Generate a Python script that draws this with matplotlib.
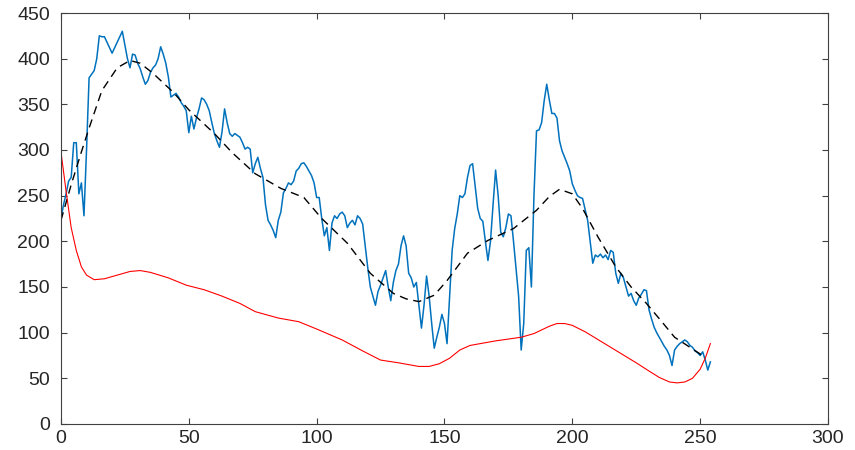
import matplotlib
matplotlib.use("Agg")
import matplotlib.pyplot as plt
import numpy as np

# blue: noisy series, one value per step (x = 0..254)
blue_y = [225, 240, 252, 266, 270, 308, 308, 252, 264, 228,
          300, 379, 383, 387, 400, 425, 424, 424, 418, 412,
          406, 412, 418, 424, 430, 415, 400, 390, 405, 404,
          395, 389, 380, 372, 376, 385, 390, 393, 400, 413,
          405, 395, 380, 358, 360, 362, 358, 352, 348, 343,
          319, 337, 323, 335, 345, 357, 355, 350, 343, 330,
          318, 310, 303, 320, 345, 330, 318, 315, 318, 316,
          314, 308, 301, 303, 301, 275, 285, 292, 280, 270,
          240, 223, 218, 212, 204, 223, 232, 253, 258, 264,
          262, 266, 277, 280, 285, 286, 282, 277, 272, 264,
          248, 248, 225, 206, 215, 190, 220, 228, 225, 230,
          232, 228, 215, 220, 223, 218, 228, 225, 219, 195,
          171, 150, 140, 130, 145, 152, 160, 168, 150, 135,
          155, 168, 175, 195, 206, 195, 165, 160, 150, 155,
          130, 105, 130, 162, 140, 110, 83, 95, 106, 120,
          110, 88, 140, 190, 214, 230, 250, 248, 252, 270,
          283, 285, 260, 236, 225, 222, 200, 179, 200, 240,
          278, 250, 210, 205, 215, 230, 228, 200, 170, 140,
          81, 110, 190, 193, 150, 250, 321, 322, 330, 354,
          372, 355, 340, 340, 335, 310, 299, 292, 285, 277,
          263, 256, 250, 248, 247, 235, 223, 200, 176, 185,
          183, 186, 182, 185, 180, 190, 188, 165, 154, 165,
          160, 150, 140, 143, 135, 130, 138, 142, 147, 146,
          125, 115, 106, 100, 95, 90, 85, 81, 75, 64,
          81, 85, 88, 90, 92, 90, 86, 84, 80, 78,
          75, 79, 70, 59, 68]
blue_x = np.arange(len(blue_y))

# black dashed: smooth trend
trend_x = [0, 4, 8, 11, 16, 22, 27, 31, 36, 44, 50, 60, 67, 76, 86, 95, 102,
           112, 121, 130, 135, 140, 146, 151, 159, 167, 177, 186, 191, 195,
           200, 204, 210, 217, 223, 229, 235, 240, 246, 252]
trend_y = [223, 262, 298, 324, 365, 390, 398, 395, 384, 363, 344, 318, 297,
           274, 258, 248, 225, 198, 165, 143, 137, 134, 141, 157, 187, 201,
           214, 234, 249, 257, 252, 236, 205, 172, 150, 132, 112, 95, 84, 73]

# red: lower smooth curve
red_x = [0, 2, 4, 6, 8, 10, 13, 17, 22, 27, 31, 35, 42, 49, 56, 63, 70, 76,
         85, 93, 100, 110, 118, 125, 132, 140, 144, 148, 152, 156, 160, 170,
         180, 185, 188, 191, 194, 197, 200, 205, 215, 225, 230, 234, 238, 241,
         244, 247, 250, 252, 254]
red_y = [298, 255, 215, 190, 172, 163, 158, 159, 163, 167, 168, 166, 160,
         152, 147, 140, 132, 123, 116, 112, 104, 92, 80, 70, 67, 63, 63, 66,
         72, 81, 86, 91, 95, 99, 103, 107, 110, 110, 108, 101, 84, 67, 58, 51,
         46, 45, 46, 50, 60, 72, 88]

plt.rcParams['font.family'] = ['Liberation Sans', 'DejaVu Sans']

fig = plt.figure(figsize=(8.55, 4.5), dpi=100)
ax = fig.add_axes([0.0713, 0.0578, 0.8971, 0.9133])

ax.plot(blue_x, blue_y, color='#0072BD', lw=1.1)
ax.plot(trend_x, trend_y, 'k--', lw=1.0, dashes=(6, 4))
ax.plot(red_x, red_y, color='#FF0000', lw=0.8)

ax.set_xlim(0, 300)
ax.set_ylim(0, 450)
ax.set_xticks(np.arange(0, 301, 50))
ax.set_yticks(np.arange(0, 451, 50))
ax.tick_params(direction='in', top=True, right=True, labelsize=14,
               color='#404040', labelcolor='#262626', length=4)
ax.tick_params(axis='y', pad=8)
ax.tick_params(axis='x', pad=4)
for s in ax.spines.values():
    s.set_color('#404040')
    s.set_linewidth(0.8)

fig.savefig("out.png", dpi=100)
